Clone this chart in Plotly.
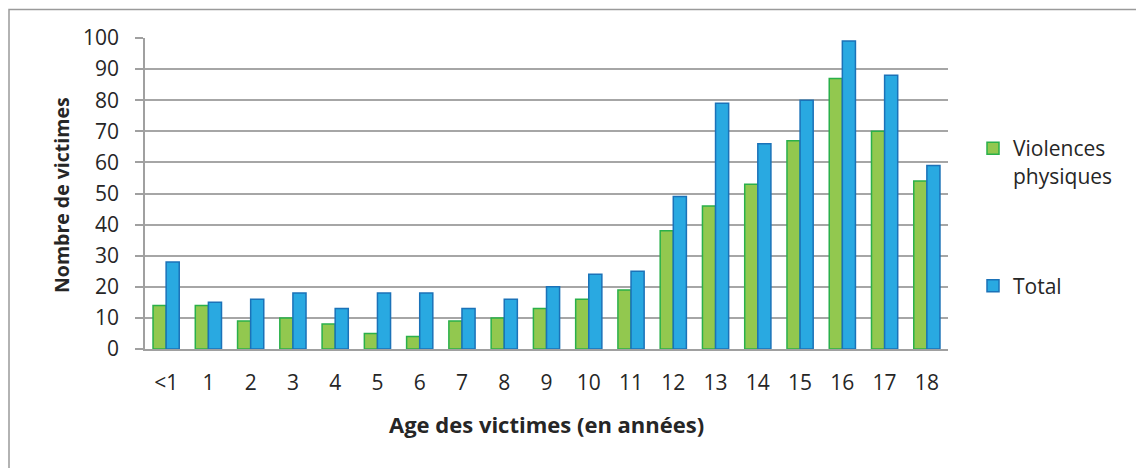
import plotly.graph_objects as go

ages = ["<1", "1", "2", "3", "4", "5", "6", "7", "8", "9", "10", "11", "12", "13", "14", "15", "16", "17", "18"]
violences = [14, 14, 9, 10, 8, 5, 4, 9, 10, 13, 16, 19, 38, 46, 53, 67, 87, 70, 54]
total = [28, 15, 16, 18, 13, 18, 18, 13, 16, 20, 24, 25, 49, 79, 66, 80, 99, 88, 59]
y_ticks = list(range(0, 101, 10))

FONT = "Open Sans"
OFF = 8  # page body margin
W, H = 1144 - OFF, 468 - OFF
L, T = 145 - OFF, 38 - OFF
R = W - (948 - OFF)
B = H - (349 - OFF)
pw, ph = W - L - R, H - T - B

def px(x):
    return (x - OFF - L) / pw

def py(y):
    return (H - B - (y - OFF)) / ph

fig = go.Figure()
fig.add_trace(go.Bar(
    x=ages, y=violences, name="Violences<br>physiques", legendgroup="a",
    marker=dict(color="#92C84F", line=dict(color="#2AB04A", width=1.5)),
))
fig.add_trace(go.Bar(
    x=ages, y=total, name="Total", legendgroup="b",
    marker=dict(color="#29A9E1", line=dict(color="#1B72B8", width=1.5)),
))

fig.update_layout(
    width=W, height=H,
    margin=dict(l=L, r=R, t=T, b=B, pad=0),
    paper_bgcolor="white", plot_bgcolor="white",
    barmode="group", bargap=0.38, bargroupgap=0,
    font=dict(family=FONT, size=22, color="#262626"),
    showlegend=True,
    legend=dict(
        x=px(973), y=py(128), xanchor="left", yanchor="top",
        traceorder="grouped", tracegroupgap=80, valign="top",
        font=dict(family=FONT, size=21, color="#262626"),
        itemwidth=30, bgcolor="rgba(0,0,0,0)",
    ),
    xaxis=dict(
        type="category", showgrid=False, showline=True, linecolor="#A0A0A0", linewidth=1.5,
        ticks="", tickfont=dict(size=21), ticklabelstandoff=14,
        fixedrange=True,
    ),
    yaxis=dict(
        range=[0, 100], tickvals=y_ticks, showgrid=True, gridcolor="#A6A6A6", gridwidth=1.5,
        showline=True, linecolor="#A0A0A0", linewidth=1.5, ticks="outside", ticklen=8,
        tickcolor="#A0A0A0", tickwidth=1.5, tickfont=dict(size=21), zeroline=False,
        ticklabelstandoff=12,
        fixedrange=True,
    ),
    annotations=[
        dict(text="<b>Age des victimes (en années)</b>", xref="paper", yref="paper",
             x=px(546), y=py(424), xanchor="center", yanchor="middle", showarrow=False,
             font=dict(family=FONT, size=22, color="#262626")),
        dict(text="<b>Nombre de victimes</b>", xref="paper", yref="paper",
             x=px(61), y=py(195), xanchor="center", yanchor="middle", showarrow=False,
             textangle=-90, font=dict(family=FONT, size=19.5, color="#262626")),
    ],
    shapes=[dict(
        type="rect", xref="paper", yref="paper",
        x0=px(9), x1=px(1170), y0=py(490), y1=py(9.5),
        line=dict(color="#9A9A9A", width=1.5), fillcolor="rgba(0,0,0,0)", layer="below",
    )],
)

fig.write_html("out.html")
